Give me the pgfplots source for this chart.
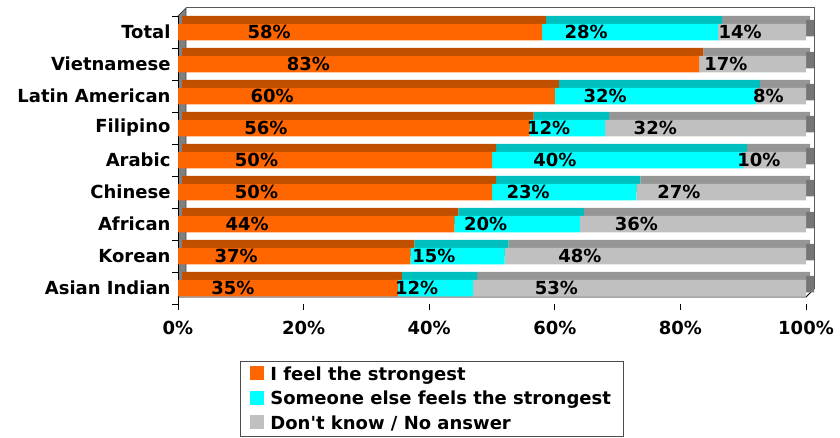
\documentclass[border=0pt]{standalone}
\usepackage{pgfplots}
\pgfplotsset{compat=1.18}
\usepackage{pgfplotstable}
\usepackage{fontspec}
\setmainfont{DejaVu Sans}
\definecolor{orF}{HTML}{FF6600}
\definecolor{orT}{HTML}{C04F00}
\definecolor{cyF}{HTML}{00FFFF}
\definecolor{cyT}{HTML}{00BFBF}
\definecolor{grF}{HTML}{C0C0C0}
\definecolor{grT}{HTML}{969696}
\definecolor{grE}{HTML}{767676}
\definecolor{wallc}{HTML}{808080}
\pgfplotstableread{
idx mine other dk
0 58 28 14
1 83 0 17
2 60 32 8
3 56 12 32
4 50 40 10
5 50 23 27
6 44 20 36
7 37 15 48
8 35 12 53
}\datatab
\newcommand{\lblfont}{\fontsize{18}{21}\selectfont\bfseries}
\pgfplotsset{
  common/.style={
    scale only axis, width=628pt, height=288pt,
    xmin=0, xmax=100, ymin=-0.5, ymax=8.5, y dir=reverse,
    xbar stacked, bar width=16.5pt, clip=false,
  }
}
\begin{document}
\begin{tikzpicture}
\useasboundingbox (0pt,0pt) rectangle (840pt,437pt);
% left wall
\fill[wallc] (178pt,421pt) -- (186pt,429pt) -- (186pt,148pt) -- (178pt,140pt) -- cycle;
\draw[black!70, line width=0.8pt] (178pt,421pt) -- (186pt,429pt) -- (186pt,148pt) -- (178pt,140pt);
% back frame
\draw[black!65, line width=1pt] (186pt,429pt) -- (814pt,429pt) -- (814pt,148pt);
% top faces (shifted copy)
\begin{axis}[common, at={(182pt,141pt)}, anchor=south west, hide axis]
\addplot[fill=orT, draw=none] table[x=mine, y=idx]{\datatab};
\addplot[fill=cyT, draw=none] table[x=other, y=idx]{\datatab};
\addplot[fill=grT, draw=none] table[x=dk, y=idx]{\datatab};
\end{axis}
% floor
\draw[black, line width=0.8pt] (178pt,140pt) -- (806pt,140pt) -- (814pt,148pt);
% front faces
\begin{axis}[common, at={(178pt,133pt)}, anchor=south west,
  /pgf/number format/assume math mode=true,
  axis x line*=bottom, axis y line*=left,
  x axis line style={draw=none},
  y axis line style={black, line width=0.8pt},
  xtick={0,20,40,60,80,100},
  xticklabels={0\%,20\%,40\%,60\%,80\%,100\%},
  ytick={-0.5,0.5,...,8.5}, yticklabels={},
  extra y ticks={0,1,2,3,4,5,6,7,8},
  extra y tick labels={Total,Vietnamese,Latin American,Filipino,Arabic,Chinese,African,Korean,Asian Indian},
  extra y tick style={major tick length=0pt, yticklabel style={xshift=-4pt}},
  tick align=outside, major tick length=6pt,
  tick style={black, line width=0.8pt},
  ticklabel style={font=\lblfont, text=black},
  xticklabel style={yshift=-8pt},
  visualization depends on=rawx \as \rawx,
  every node near coord/.append style={anchor=center, font=\lblfont, text=black, xshift={-1.57pt*\rawx}},
  legend style={at={(0.0987,-0.198)}, anchor=north west, draw=black!70, line width=0.8pt,
    font=\lblfont, inner xsep=10pt, inner ysep=3pt, row sep=5.5pt,
    nodes={inner sep=2pt},
    /tikz/every odd column/.append style={column sep=4pt}},
  legend cell align=left,
  legend image code/.code={\fill[#1] (6pt,-6pt) rectangle (20pt,8pt);},
]
\addplot[fill=orF, draw=none, nodes near coords={\ifdim\rawx pt>0pt\pgfmathprintnumber[assume math mode=true]{\rawx}\%\fi}] table[x=mine, y=idx]{\datatab};
\addplot[fill=cyF, draw=none, nodes near coords={\ifdim\rawx pt>0pt\pgfmathprintnumber[assume math mode=true]{\rawx}\%\fi}] table[x=other, y=idx]{\datatab};
\addplot[fill=grF, draw=none, nodes near coords={\ifdim\rawx pt>0pt\pgfmathprintnumber[assume math mode=true]{\rawx}\%\fi}] table[x=dk, y=idx]{\datatab};
\addplot[fill=grE, draw=none, yshift=4pt, forget plot] coordinates {(1.274,0) (1.274,1) (1.274,2) (1.274,3) (1.274,4) (1.274,5) (1.274,6) (1.274,7) (1.274,8)};
\legend{I feel the strongest, Someone else feels the strongest, Don\textquotesingle t know / No answer}
\end{axis}
\end{tikzpicture}
\end{document}
